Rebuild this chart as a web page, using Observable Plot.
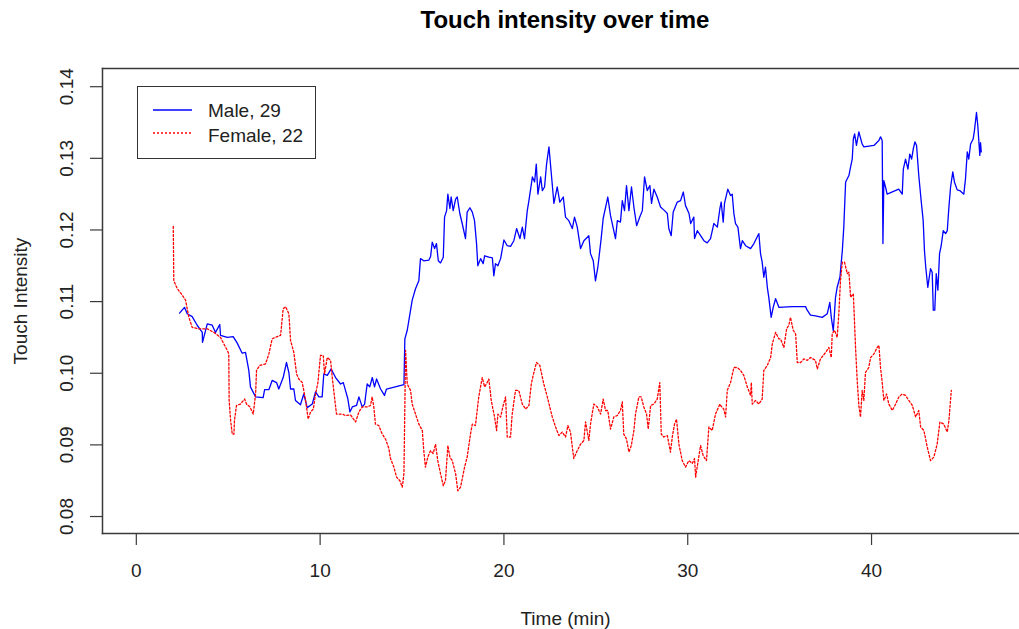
<!DOCTYPE html>
<html>
<head>
<meta charset="utf-8">
<script src="https://cdn.jsdelivr.net/npm/d3@7"></script>
<script src="https://cdn.jsdelivr.net/npm/@observablehq/plot@0.6"></script>
<style>
  body { margin: 0; background: #fff; }
  #wrap { position: relative; width: 1019px; height: 629px; overflow: hidden; background: #fff; font-family: "Liberation Sans", Arial, sans-serif; }
  #title { position: absolute; left: 102px; width: 926px; top: 0; height: 40px; line-height: 40px; text-align: center; font-weight: bold; font-size: 24px; color: #000; }
  #chart { position: absolute; left: 0; top: 40px; }
  #legend { position: absolute; left: 137px; top: 86px; width: 179px; height: 73px; border: 1.5px solid #333; box-sizing: border-box; background: #fff; }
  #legend .lab { position: absolute; left: 70px; height: 22px; line-height: 22px; font-size: 19px; color: #222; white-space: nowrap; }
</style>
</head>
<body>
<div id="wrap">
  <div id="title">Touch intensity over time</div>
  <div id="chart"></div>
  <div id="legend">
    <svg width="70" height="70" style="position:absolute;left:0;top:0">
      <line x1="15" x2="54" y1="23" y2="23" stroke="#0000FF" stroke-width="1.3"></line>
      <line x1="15" x2="54" y1="46" y2="46" stroke="#FF0000" stroke-width="1.3" stroke-dasharray="2,2"></line>
    </svg>
    <div class="lab" style="top:13px">Male, 29</div>
    <div class="lab" style="top:38px">Female, 22</div>
  </div>
</div>
<script>
// ---- Data (time in minutes, touch intensity) ----
const seriesNames = ["Male, 29", "Female, 22"];
const xTicks = [0, 10, 20, 30, 40];
const yTicks = [0.08, 0.09, 0.10, 0.11, 0.12, 0.13, 0.14];

const maleTime = [
  2.35,2.62,2.77,3.04,3.31,3.59,3.60,3.86,4.13,4.31,
  4.54,4.58,4.95,5.27,5.49,5.76,5.94,6.12,6.21,6.49,
  6.90,6.98,7.21,7.39,7.63,7.75,7.99,8.17,8.30,8.39,
  8.57,8.66,8.93,9.11,9.30,9.57,9.75,9.93,10.11,10.20,
  10.39,10.60,10.84,11.11,11.26,11.38,11.51,11.62,11.75,11.98,
  12.11,12.29,12.42,12.56,12.70,12.84,12.96,13.07,13.29,13.50,
  13.61,14.56,14.61,14.74,14.92,15.01,15.19,15.37,15.46,15.64,
  15.92,16.01,16.10,16.23,16.33,16.43,16.55,16.70,16.77,16.88,
  16.95,17.06,17.13,17.24,17.37,17.46,17.60,17.73,17.91,18.00,
  18.15,18.28,18.40,18.51,18.58,18.73,18.87,18.95,19.18,19.37,
  19.45,19.54,19.67,19.82,20.00,20.18,20.36,20.54,20.69,20.87,
  21.00,21.12,21.27,21.36,21.55,21.67,21.76,21.85,22.00,22.09,
  22.21,22.32,22.45,22.57,22.72,22.90,23.04,23.23,23.35,23.53,
  23.72,23.84,23.99,24.17,24.35,24.62,24.71,24.86,24.98,25.11,
  25.29,25.40,25.65,25.80,26.07,26.17,26.34,26.44,26.56,26.67,
  26.80,26.94,27.07,27.22,27.39,27.53,27.65,27.80,27.94,28.03,
  28.16,28.34,28.52,28.74,28.89,28.97,29.10,29.21,29.43,29.61,
  29.76,29.88,30.07,30.16,30.33,30.37,30.52,30.70,30.88,31.06,
  31.24,31.42,31.61,31.75,31.82,31.93,32.00,32.18,32.33,32.42,
  32.51,32.60,32.73,32.87,32.97,33.15,33.42,33.60,33.87,33.96,
  34.05,34.14,34.23,34.33,34.41,34.54,34.65,34.78,34.96,35.69,
  36.41,36.50,36.68,36.95,37.32,37.59,37.73,37.81,37.92,38.04,
  38.13,38.28,38.41,38.49,38.59,38.77,38.86,38.95,39.01,39.08,
  39.18,39.31,39.49,39.58,40.13,40.40,40.49,40.58,40.62,40.67,
  40.76,40.85,41.48,41.67,41.73,41.85,41.98,42.08,42.18,42.27,
  42.36,42.45,42.57,42.70,42.81,42.88,42.95,43.06,43.21,43.30,
  43.36,43.44,43.52,43.61,43.70,43.79,43.90,44.03,44.12,44.21,
  44.30,44.42,44.51,44.66,44.80,45.02,45.11,45.21,45.29,45.39,
  45.53,45.60,45.71,45.78,45.89,45.93,45.97
];
const maleValue = [
  0.1084,0.1092,0.1083,0.1079,0.1067,0.1057,0.1043,0.1069,0.1067,0.1057,
  0.1068,0.1053,0.1050,0.1051,0.1042,0.1028,0.1029,0.1004,0.0981,0.0967,
  0.0966,0.0977,0.0977,0.0990,0.0987,0.0978,0.0994,0.1015,0.1001,0.0978,
  0.0978,0.0962,0.0956,0.0971,0.0952,0.0957,0.0974,0.0967,0.0967,0.0999,
  0.0997,0.1006,0.0994,0.0985,0.0987,0.0976,0.0964,0.0946,0.0953,0.0955,
  0.0967,0.0953,0.0957,0.0985,0.0981,0.0994,0.0981,0.0992,0.0978,0.0969,
  0.0978,0.0984,0.1048,0.1060,0.1088,0.1102,0.1118,0.1129,0.1160,0.1157,
  0.1158,0.1163,0.1183,0.1174,0.1181,0.1157,0.1154,0.1162,0.1218,0.1227,
  0.1250,0.1230,0.1246,0.1227,0.1243,0.1246,0.1223,0.1209,0.1188,0.1225,
  0.1231,0.1225,0.1213,0.1181,0.1150,0.1160,0.1153,0.1164,0.1162,0.1161,
  0.1136,0.1153,0.1150,0.1160,0.1186,0.1178,0.1177,0.1185,0.1202,0.1188,
  0.1204,0.1188,0.1227,0.1241,0.1274,0.1267,0.1292,0.1250,0.1274,0.1255,
  0.1260,0.1292,0.1316,0.1281,0.1237,0.1260,0.1239,0.1246,0.1218,0.1213,
  0.1202,0.1218,0.1204,0.1174,0.1185,0.1192,0.1167,0.1157,0.1129,0.1148,
  0.1188,0.1216,0.1246,0.1220,0.1188,0.1213,0.1211,0.1241,0.1227,0.1262,
  0.1227,0.1260,0.1232,0.1206,0.1218,0.1227,0.1274,0.1255,0.1262,0.1237,
  0.1257,0.1246,0.1232,0.1227,0.1223,0.1202,0.1192,0.1225,0.1239,0.1241,
  0.1253,0.1234,0.1223,0.1209,0.1218,0.1188,0.1199,0.1192,0.1185,0.1182,
  0.1188,0.1209,0.1204,0.1230,0.1239,0.1211,0.1237,0.1257,0.1248,0.1250,
  0.1223,0.1209,0.1204,0.1174,0.1185,0.1178,0.1174,0.1181,0.1195,0.1167,
  0.1155,0.1134,0.1148,0.1120,0.1106,0.1078,0.1092,0.1104,0.1092,0.1093,
  0.1093,0.1088,0.1081,0.1080,0.1078,0.1083,0.1099,0.1078,0.1059,0.1106,
  0.1120,0.1134,0.1171,0.1204,0.1267,0.1276,0.1288,0.1299,0.1327,0.1334,
  0.1318,0.1337,0.1320,0.1316,0.1318,0.1325,0.1330,0.1325,0.1181,0.1269,
  0.1260,0.1250,0.1257,0.1250,0.1285,0.1299,0.1285,0.1306,0.1299,0.1313,
  0.1323,0.1318,0.1276,0.1241,0.1213,0.1171,0.1148,0.1120,0.1146,0.1141,
  0.1088,0.1088,0.1139,0.1116,0.1167,0.1178,0.1199,0.1195,0.1199,0.1232,
  0.1260,0.1281,0.1267,0.1256,0.1255,0.1250,0.1271,0.1309,0.1299,0.1320,
  0.1327,0.1339,0.1364,0.1346,0.1304,0.1322,0.1309
];

const femaleTime = [
  2.01,2.04,2.23,2.50,2.68,2.86,3.04,3.40,3.86,4.22,
  4.58,4.76,4.95,5.03,5.05,5.13,5.22,5.31,5.34,5.45,
  5.67,5.89,6.00,6.18,6.36,6.49,6.54,6.72,7.03,7.21,
  7.39,7.57,7.85,7.99,8.12,8.30,8.39,8.57,8.72,8.84,
  9.03,9.21,9.35,9.48,9.63,9.75,9.88,10.02,10.17,10.24,
  10.39,10.57,10.66,10.89,11.20,11.38,11.65,11.93,12.11,12.29,
  12.56,12.74,12.83,12.92,13.01,13.19,13.38,13.56,13.74,13.83,
  14.01,14.16,14.34,14.47,14.56,14.65,14.74,14.92,15.01,15.19,
  15.37,15.56,15.64,15.73,15.86,16.01,16.15,16.28,16.40,16.55,
  16.70,16.82,16.95,17.06,17.19,17.37,17.49,17.64,17.86,18.00,
  18.18,18.28,18.45,18.63,18.82,18.95,19.05,19.18,19.31,19.49,
  19.60,19.67,19.82,19.94,20.09,20.18,20.36,20.45,20.63,20.81,
  21.00,21.18,21.36,21.49,21.59,21.77,21.95,22.17,22.36,22.63,
  22.81,22.99,23.17,23.35,23.48,23.62,23.72,23.80,23.99,24.17,
  24.35,24.44,24.62,24.71,24.89,25.08,25.26,25.40,25.53,25.65,
  25.80,25.98,26.17,26.34,26.44,26.52,26.67,26.80,26.93,27.07,
  27.16,27.34,27.47,27.61,27.76,27.85,27.98,28.16,28.34,28.48,
  28.56,28.70,28.89,29.06,29.16,29.28,29.39,29.52,29.70,29.88,
  30.06,30.25,30.37,30.43,30.60,30.70,30.84,31.02,31.15,31.33,
  31.51,31.75,31.79,31.96,32.06,32.15,32.33,32.51,32.70,32.87,
  33.05,33.24,33.42,33.46,33.51,33.69,33.87,34.05,34.14,34.33,
  34.51,34.60,34.78,34.96,35.05,35.23,35.38,35.50,35.59,35.74,
  35.87,35.96,36.14,36.32,36.50,36.68,36.95,37.05,37.22,37.50,
  37.68,37.81,37.86,37.99,38.13,38.22,38.31,38.41,38.53,38.68,
  38.77,38.86,39.01,39.13,39.22,39.31,39.40,39.49,39.58,39.67,
  39.85,39.95,40.13,40.31,40.40,40.49,40.58,40.67,40.82,40.94,
  41.13,41.31,41.49,41.67,41.85,42.03,42.22,42.40,42.57,42.67,
  42.85,43.03,43.21,43.39,43.57,43.72,43.93,44.12,44.21,44.34
];
const femaleValue = [
  0.1205,0.1129,0.1118,0.1109,0.1102,0.1078,0.1064,0.1062,0.1062,0.1057,
  0.1050,0.1041,0.1032,0.1027,0.0962,0.0934,0.0915,0.0915,0.0934,0.0955,
  0.0957,0.0964,0.0957,0.0953,0.0943,0.0971,0.1004,0.1011,0.1013,0.1027,
  0.1048,0.1050,0.1053,0.1090,0.1093,0.1083,0.1046,0.1029,0.0999,0.0992,
  0.0987,0.0962,0.0936,0.0946,0.0950,0.0971,0.0987,0.1025,0.1025,0.0999,
  0.1022,0.1018,0.0994,0.0943,0.0943,0.0941,0.0942,0.0932,0.0946,0.0953,
  0.0953,0.0955,0.0967,0.0953,0.0929,0.0927,0.0915,0.0908,0.0895,0.0881,
  0.0869,0.0855,0.0850,0.0841,0.0860,0.1032,0.0985,0.0976,0.0957,0.0943,
  0.0929,0.0920,0.0892,0.0869,0.0883,0.0892,0.0888,0.0901,0.0878,0.0860,
  0.0843,0.0850,0.0899,0.0883,0.0878,0.0860,0.0836,0.0841,0.0869,0.0883,
  0.0915,0.0929,0.0927,0.0967,0.0994,0.0981,0.0985,0.0992,0.0962,0.0939,
  0.0920,0.0943,0.0939,0.0953,0.0967,0.0911,0.0911,0.0943,0.0976,0.0976,
  0.0957,0.0950,0.0955,0.0985,0.0997,0.1015,0.1011,0.0985,0.0967,0.0939,
  0.0925,0.0913,0.0918,0.0911,0.0927,0.0918,0.0897,0.0881,0.0892,0.0901,
  0.0906,0.0932,0.0906,0.0929,0.0957,0.0953,0.0943,0.0964,0.0948,0.0948,
  0.0922,0.0939,0.0941,0.0948,0.0960,0.0915,0.0908,0.0890,0.0899,0.0920,
  0.0943,0.0967,0.0967,0.0953,0.0943,0.0922,0.0955,0.0957,0.0964,0.0987,
  0.0915,0.0911,0.0913,0.0890,0.0911,0.0929,0.0936,0.0901,0.0878,0.0869,
  0.0878,0.0874,0.0881,0.0855,0.0883,0.0899,0.0885,0.0878,0.0925,0.0920,
  0.0943,0.0957,0.0955,0.0950,0.0939,0.0976,0.0987,0.1008,0.1008,0.1004,
  0.0997,0.0981,0.0969,0.0987,0.0957,0.0962,0.0957,0.0964,0.1004,0.1011,
  0.1022,0.1041,0.1057,0.1048,0.1048,0.1036,0.1062,0.1067,0.1078,0.1060,
  0.1055,0.1015,0.1015,0.1020,0.1018,0.1022,0.1018,0.1006,0.1020,0.1029,
  0.1036,0.1022,0.1055,0.1060,0.1050,0.1083,0.1129,0.1155,0.1155,0.1139,
  0.1141,0.1106,0.1111,0.1036,0.0990,0.0955,0.0939,0.0976,0.0962,0.1001,
  0.1008,0.1022,0.1027,0.1036,0.1039,0.1008,0.0987,0.0962,0.0971,0.0957,
  0.0948,0.0957,0.0967,0.0971,0.0969,0.0962,0.0955,0.0939,0.0948,0.0925,
  0.0920,0.0897,0.0878,0.0883,0.0901,0.0932,0.0929,0.0918,0.0934,0.0976
];

// ---- Build tables ----
function build(ts, vs) {
  const n = Math.min(ts.length, vs.length);
  const out = [];
  for (let i = 0; i < n; i++) out.push({t: ts[i], v: vs[i]});
  return out;
}
const male = build(maleTime, maleValue);
const female = build(femaleTime, femaleValue);

const frameColor = "#3a3a3a";
const fontFamily = "'Liberation Sans', Arial, sans-serif";

const chart = Plot.plot({
  width: 1019,
  height: 589,
  marginTop: 28,
  marginBottom: 96,
  marginLeft: 102,
  marginRight: 0,
  x: {domain: [-1.84, 48.05]},
  y: {domain: [0.07763, 0.14254]},
  style: {fontFamily, fontSize: "19px", color: "#222", background: "#fff", overflow: "visible"},
  marks: [
    Plot.line(male, {x: "t", y: "v", stroke: "#0000FF", strokeWidth: 1.3}),
    Plot.line(female, {x: "t", y: "v", stroke: "#FF0000", strokeWidth: 1.3, strokeDasharray: "2,2"}),
    Plot.frame({anchor: "top", stroke: frameColor, strokeWidth: 1.5}),
    Plot.frame({anchor: "bottom", stroke: frameColor, strokeWidth: 1.5}),
    Plot.frame({anchor: "left", stroke: frameColor, strokeWidth: 1.5}),
    Plot.axisX({ticks: xTicks, tickSize: 12, tickFormat: () => "", label: null, stroke: frameColor, strokeWidth: 1.2}),
    Plot.axisY({ticks: yTicks, tickSize: 12, tickFormat: () => "", label: null, stroke: frameColor, strokeWidth: 1.2}),
    Plot.text(xTicks, {x: d => d, text: d => String(d), frameAnchor: "bottom", dy: 37, lineAnchor: "middle", fontSize: 19, fill: "#222"}),
    Plot.text(yTicks, {y: d => d, text: d => d.toFixed(2), frameAnchor: "left", dx: -36, rotate: -90, textAnchor: "middle", lineAnchor: "middle", fontSize: 19, fill: "#222"}),
    Plot.text(["Time (min)"], {text: d => d, frameAnchor: "bottom", dx: 4.5, dy: 85, lineAnchor: "middle", fontSize: 19, fill: "#222"}),
    Plot.text(["Touch Intensity"], {text: d => d, frameAnchor: "left", dx: -82, rotate: -90, textAnchor: "middle", lineAnchor: "middle", fontSize: 19, fill: "#222"})
  ]
});
document.getElementById("chart").appendChild(chart);
</script>
</body>
</html>
